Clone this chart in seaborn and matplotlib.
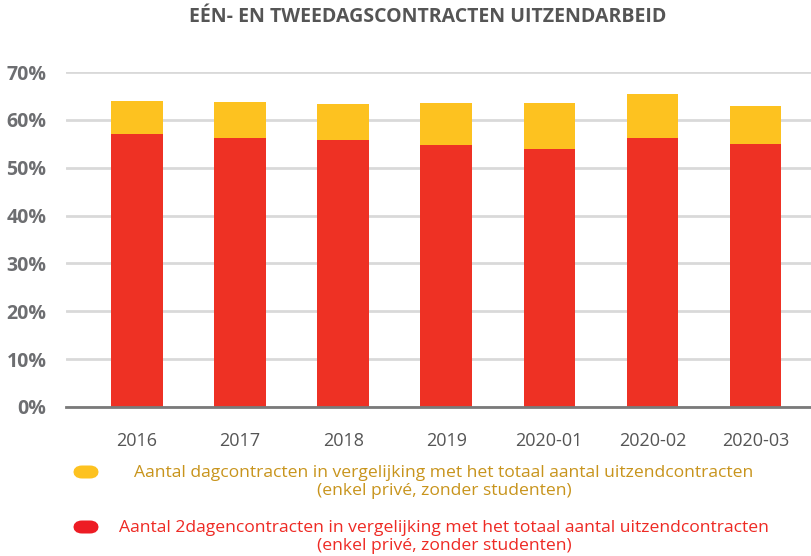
import pandas as pd
import numpy as np
import matplotlib.pyplot as plt
from matplotlib.patches import FancyBboxPatch
import seaborn as sns

# data (percent)
periods = ['2016', '2017', '2018', '2019', '2020-01', '2020-02', '2020-03']
dag_pct = [63.9, 63.7, 63.3, 63.5, 63.5, 65.4, 62.9]      # yellow bars (back)
tweedag_pct = [57.0, 56.2, 55.8, 54.7, 53.9, 56.2, 55.0]  # red bars (front)
yticks = [0, 10, 20, 30, 40, 50, 60, 70]

YELLOW = '#FDC220'
RED = '#EE3124'
GREY = '#6d6e71'

sns.set_theme(style='white')
plt.rcParams['font.family'] = ['Open Sans', 'DejaVu Sans']

df = pd.DataFrame({'periode': periods, 'dag': dag_pct, 'tweedag': tweedag_pct})

fig = plt.figure(figsize=(8.11, 5.56), dpi=100)
ax = fig.add_axes([66 / 811, 149 / 556, 745 / 811, 335 / 556])

sns.barplot(data=df, x='periode', y='dag', color=YELLOW, width=0.5,
            saturation=1, linewidth=0, ax=ax, zorder=3)
sns.barplot(data=df, x='periode', y='tweedag', color=RED, width=0.5,
            saturation=1, linewidth=0, ax=ax, zorder=4)

ax.set_ylim(0, 70)
ax.set_xlim(-0.69, 6.54)
ax.set_yticks(yticks)
ax.set_yticklabels([f'{v}%' for v in yticks], fontsize=14, fontweight='bold', color=GREY)
ax.tick_params(axis='y', length=0, pad=14)
ax.tick_params(axis='x', length=0, pad=18, labelsize=13, labelcolor='#555555')
ax.set_xlabel('')
ax.set_ylabel('')
ax.yaxis.grid(True, color='#d9d9d9', linewidth=2, zorder=0)
ax.set_axisbelow(True)
for s in ['top', 'right', 'left']:
    ax.spines[s].set_visible(False)
ax.spines['bottom'].set_color('#7a7a7a')
ax.spines['bottom'].set_linewidth(2)
ax.spines['bottom'].set_zorder(5)

fig.text(428 / 811, 1 - 17 / 556, 'EÉN- EN TWEEDAGSCONTRACTEN UITZENDARBEID',
         ha='center', va='center', fontsize=14, fontweight='bold', color='#555555')

# legend
legend_items = [
    (YELLOW, '#C8941C', 482, 472,
     'Aantal dagcontracten in vergelijking met het totaal aantal uitzendcontracten\n(enkel privé, zonder studenten)'),
    ('#ED1C24', '#EE2A24', 537, 527,
     'Aantal 2dagencontracten in vergelijking met het totaal aantal uitzendcontracten\n(enkel privé, zonder studenten)'),
]
for face, tcol, yc, ym, label in legend_items:
    fig.add_artist(FancyBboxPatch((73 / 811, 1 - (ym + 6.5) / 556), 26 / 811, 13 / 556,
                                  boxstyle='round,pad=0,rounding_size=0.011',
                                  mutation_aspect=811 / 556,
                                  transform=fig.transFigure, facecolor=face,
                                  edgecolor='none'))
    fig.text(444 / 811, 1 - yc / 556, label, ha='center', va='center',
             fontsize=12.6, color=tcol, linespacing=1.15)

plt.savefig('out.png', dpi=100)
